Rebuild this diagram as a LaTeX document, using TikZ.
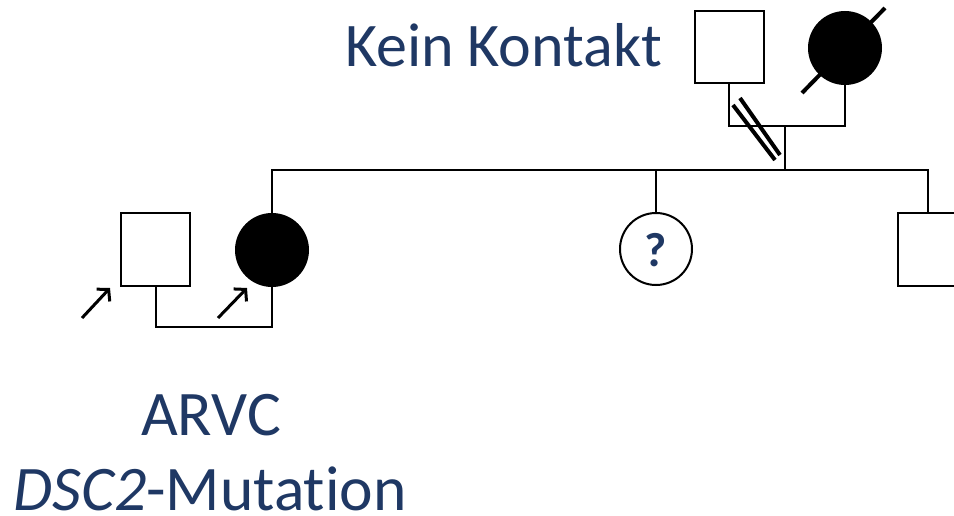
\documentclass[tikz,border=0pt]{standalone}
\usepackage{fontspec}
\setmainfont{Carlito}[Ligatures=NoCommon]
\usetikzlibrary{arrows.meta}
\definecolor{dblue}{RGB}{31,56,100}
\begin{document}
\begin{tikzpicture}[x=1pt,y=-1pt,line width=2pt,
  malebox/.style={draw=black,line width=2pt,minimum width=69pt,minimum height=72pt,inner sep=0pt,outer sep=0pt,fill=white},
  femalebox/.style={circle,draw=black,line width=2pt,minimum size=72pt,inner sep=0pt,outer sep=0pt,fill=white},
  affected/.style={fill=black},
  label/.style={text=dblue,inner sep=0pt,font=\fontsize{63.5}{74}\selectfont},
  thick slash/.style={line width=4pt},
  proband/.style={line width=3pt,-{Straight Barb[length=8pt,width=18pt]}}]
\useasboundingbox (0,0) rectangle (954,516);
\clip (0,0) rectangle (954,516);

% top generation
\node[malebox] (f1) at (729,47.5) {};
\node[femalebox,affected] (m1) at (845,48) {};
\draw[thick slash] (802,93) -- (885,8);
\coordinate (c1) at (785,126);
\draw (f1.south) |- (c1) -| (m1.south);
\draw[thick slash] (733,105) -- (775,160);
\draw[thick slash] (740,98) -- (780,155);

% second generation
\coordinate (sibL) at (273,170);
\coordinate (sibR) at (928,170);
\node[malebox,minimum height=73pt] (p2) at (155.5,249.5) {};
\node[femalebox,affected] (d2) at (272,250) {};
\node[femalebox] (q) at (656,249) {};
\node[malebox,minimum height=73pt] (s3) at (932.5,249.5) {};
\node[text=dblue,inner sep=0pt,anchor=base,font=\bfseries\fontsize{48}{56}\selectfont] (qm) at (656,266) {?};

\draw (c1) -- (c1 |- sibL);
\draw (d2.north) |- (sibR) -- (sibR |- s3.north);
\draw (q.north) -- (q.north |- sibL);

\coordinate (c2) at (214,327);
\draw (p2.south) |- (c2) -| (d2.south);

% proband arrows
\coordinate (a1s) at (82,318);
\coordinate (a1e) at (110,288);
\coordinate (a2s) at (218,318);
\coordinate (a2e) at (247,288);
\draw[proband] (a1s) -- (a1e);
\draw[proband] (a2s) -- (a2e);

% labels
\node[label,anchor=base west,font=\fontsize{62}{72}\selectfont] (kk) at (344,67) {Kein Kontakt};
\node[label,anchor=base] (arvc) at (211,435) {ARVC};
\node[label,anchor=base] (dsc) at (210,510) {\textit{DSC2}-Mutation};
\end{tikzpicture}
\end{document}
